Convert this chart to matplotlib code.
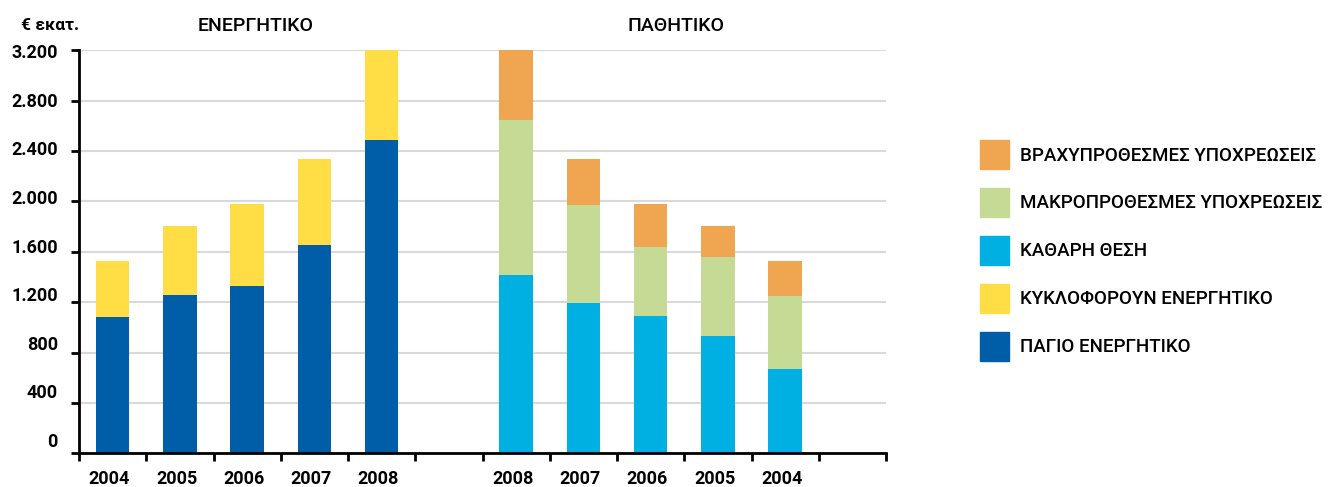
import numpy as np
import matplotlib
matplotlib.use("Agg")
import matplotlib.pyplot as plt
from matplotlib.patches import Patch

# ΕΝΕΡΓΗΤΙΚΟ (αριστερά), € εκατ.
years_left = ["2004", "2005", "2006", "2007", "2008"]
pagio = [1083, 1258, 1329, 1657, 2489]
kykloforoun = [447, 548, 649, 677, 711]

# ΠΑΘΗΤΙΚΟ (δεξιά)
years_right = ["2008", "2007", "2006", "2005", "2004"]
kathari = [1418, 1194, 1091, 932, 670]
makro = [1230, 780, 549, 628, 580]
vraxy = [552, 360, 338, 246, 280]

yticks = [0, 400, 800, 1200, 1600, 2000, 2400, 2800, 3200]

C_PAGIO = "#005da8"; C_KYKL = "#ffdd44"; C_KATH = "#00b0e2"
C_MAKRO = "#c5da94"; C_VRAX = "#f0a650"; GRID = "#d9d9d9"

plt.rcParams["font.family"] = ["Roboto", "DejaVu Sans"]
FS = 13

fig = plt.figure(figsize=(13.28, 4.87), dpi=100)
ax = fig.add_axes([79/1328, 1-453.3/487, 807/1328, 403/487])

xl = np.arange(len(years_left)) + 0.5
xr = np.arange(len(years_right)) + 6.5
w = 0.5

ax.bar(xl, pagio, w, color=C_PAGIO, zorder=3)
ax.bar(xl, kykloforoun, w, bottom=pagio, color=C_KYKL, zorder=3)
ax.bar(xr, kathari, w, color=C_KATH, zorder=3)
b2 = np.array(kathari) + np.array(makro)
ax.bar(xr, makro, w, bottom=kathari, color=C_MAKRO, zorder=3)
ax.bar(xr, vraxy, w, bottom=b2, color=C_VRAX, zorder=3)

ax.set_xlim(0, 12)
ax.set_ylim(0, 3200)
ax.set_yticks(yticks)
ax.set_yticklabels([])
# οι ετικέτες του άξονα y είναι λίγο πιο "μαζεμένες" από τις γραμμές πλέγματος
for v in yticks:
    ax.text(-21/807, 0.028 + 0.965*v/3200, f"{v:,.0f}".replace(",", "."),
            transform=ax.transAxes, ha="right", va="center", fontsize=FS, fontweight="bold")
ax.set_xticks(np.arange(13))
ax.set_xticklabels([])
ax.set_xticks(np.concatenate([xl, xr]) - 0.05, minor=True)
ax.set_xticklabels(years_left + years_right, minor=True, fontsize=FS, fontweight="bold")
ax.tick_params(axis="x", which="minor", length=0, pad=12)
ax.tick_params(axis="x", which="major", length=5.5, width=2, direction="out")
ax.tick_params(axis="y", length=5.5, width=2, direction="out")

ax.grid(axis="y", color=GRID, lw=1.5, zorder=0)
ax.spines[["top", "right"]].set_visible(False)
ax.spines[["left", "bottom"]].set_linewidth(2)
ax.spines["bottom"].set_zorder(4)

yt = 1 - 25.8/487
fig.text(256/1328, yt, "ΕΝΕΡΓΗΤΙΚΟ", ha="center", va="center", fontsize=14, fontweight="medium")
fig.text(676/1328, yt, "ΠΑΘΗΤΙΚΟ", ha="center", va="center", fontsize=14, fontweight="medium")
fig.text(50/1328, yt, "€ εκατ.", ha="center", va="center", fontsize=12.5, fontweight="bold")

handles = [Patch(color=C_VRAX, label="ΒΡΑΧΥΠΡΟΘΕΣΜΕΣ ΥΠΟΧΡΕΩΣΕΙΣ"),
           Patch(color=C_MAKRO, label="ΜΑΚΡΟΠΡΟΘΕΣΜΕΣ ΥΠΟΧΡΕΩΣΕΙΣ"),
           Patch(color=C_KATH, label="ΚΑΘΑΡΗ ΘΕΣΗ"),
           Patch(color=C_KYKL, label="ΚΥΚΛΟΦΟΡΟΥΝ ΕΝΕΡΓΗΤΙΚΟ"),
           Patch(color=C_PAGIO, label="ΠΑΓΙΟ ΕΝΕΡΓΗΤΙΚΟ")]
fig.legend(handles=handles, loc="upper left", bbox_to_anchor=(980/1328, 1-139.8/487),
           frameon=False, prop={"size": 13.5, "weight": "medium"},
           handlelength=1.55, handleheight=2.05,
           handletextpad=0.6, labelspacing=0.98, borderpad=0, borderaxespad=0)

fig.savefig("out.png", dpi=100, facecolor="white")
